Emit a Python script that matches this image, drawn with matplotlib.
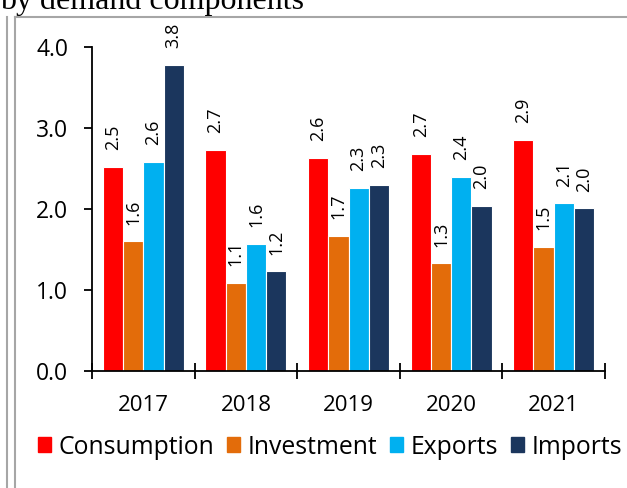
import matplotlib.pyplot as plt
from matplotlib.lines import Line2D
import numpy as np

plt.rcParams['font.family'] = ['Open Sans', 'DejaVu Sans']

years = ["2017", "2018", "2019", "2020", "2021"]
series_names = ["Consumption", "Investment", "Exports", "Imports"]
consumption = [2.52, 2.73, 2.63, 2.68, 2.85]
investment = [1.60, 1.09, 1.67, 1.33, 1.53]
exports = [2.58, 1.57, 2.26, 2.40, 2.07]
imports = [3.78, 1.23, 2.30, 2.04, 2.01]

colors = ["#FF0000", "#E36C0A", "#00B0F0", "#1B365D"]

fig = plt.figure(figsize=(6.27, 4.88), dpi=100)
ax = fig.add_axes([92 / 627, 1 - 371 / 488, 513 / 627, 324 / 488])

x = np.arange(len(years))
width = 0.197
for i, (name, vals) in enumerate(zip(series_names,
                                     [consumption, investment, exports, imports])):
    pos = x + (i - 1.5) * width
    ax.bar(pos, vals, width, color=colors[i], edgecolor="white",
           linewidth=0.8, label=name)
    for px, v in zip(pos, vals):
        ax.annotate(f"{v:.1f}", (px, v), xytext=(0, 12),
                    textcoords="offset points", rotation=90,
                    ha="center", va="bottom", fontsize=13,
                    annotation_clip=False)

ax.set_xlim(-0.5, 4.5)
ax.set_ylim(0, 4.0)
ax.set_yticks([0, 1, 2, 3, 4])
ax.set_yticklabels(["0.0", "1.0", "2.0", "3.0", "4.0"])
ax.set_xticks(x)
ax.set_xticklabels(years)
ax.set_xticks(np.arange(-0.5, 5.0, 1.0), minor=True)

for s in ["top", "right"]:
    ax.spines[s].set_visible(False)
for s in ["left", "bottom"]:
    ax.spines[s].set_linewidth(1.3)

ax.tick_params(axis="y", direction="out", length=6, width=1.3,
               pad=11, labelsize=16.5)
ax.tick_params(axis="x", which="major", length=0, pad=17, labelsize=16)
ax.tick_params(axis="x", which="minor", direction="inout", length=11.5,
               width=1.3)

handles = [plt.Rectangle((0, 0), 1, 1, color=c) for c in colors]
fig.legend(handles, series_names, loc="center", ncol=4,
           bbox_to_anchor=(330 / 627, 1 - 447 / 488), frameon=False,
           fontsize=17.8, handlelength=0.55, handleheight=0.55,
           handletextpad=0.3, columnspacing=0.5, borderaxespad=0)

# title fragment and frame
fig.text(0, 1 - 9 / 488, "by demand components", family="Liberation Serif",
         fontsize=23, ha="left", va="baseline")
grey = "#A6A6A6"
fig.add_artist(Line2D([7 / 627, 7 / 627], [0, 1 - 17 / 488], color=grey, lw=1.5))
fig.add_artist(Line2D([15 / 627, 15 / 627], [0, 1 - 17 / 488], color=grey, lw=1.5))
fig.add_artist(Line2D([15 / 627, 1], [1 - 17 / 488, 1 - 17 / 488], color=grey, lw=1.5))

fig.savefig("out.png", dpi=100)
